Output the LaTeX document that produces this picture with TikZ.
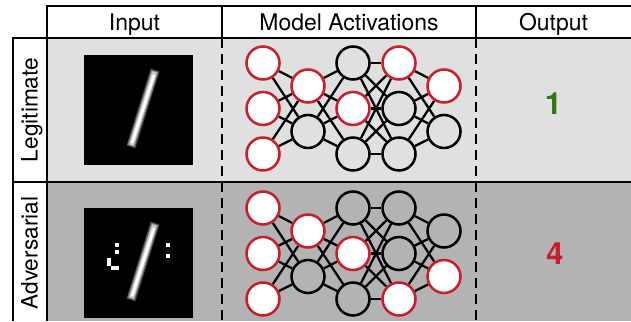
\documentclass[tikz,border=0pt]{standalone}
\usepackage{fontspec}
\setmainfont{TeX Gyre Heros}
\definecolor{rowlight}{HTML}{E0E0E0}
\definecolor{rowdark}{HTML}{B3B3B3}
\definecolor{actred}{RGB}{200,30,45}
\definecolor{outgreen}{RGB}{46,122,12}
\pgfdeclarelayer{back}
\pgfdeclarelayer{edges}
\pgfsetlayers{back,edges,main}
\tikzset{every picture/.style={line width=0.75pt}}
\tikzset{
  grid line/.style={line width=1.5pt},
  sep line/.style={line width=1.5pt, dash pattern=on 7.5pt off 4.5pt},
  neuron/.style={circle, line width=1.9pt, minimum size=24.75pt, inner sep=0pt},
  hot/.style={neuron, draw=actred, fill=white},
  cold/.style={neuron, draw=black},
  synapse/.style={line width=1.7pt},
  head/.style={font=\fontsize{17.2}{19}\selectfont, anchor=base},
  side/.style={font=\fontsize{17}{19}\selectfont, anchor=base, rotate=90},
  verdict/.style={font=\fontsize{23}{26}\selectfont\bfseries},
}

\begin{document}
\begin{tikzpicture}[x=0.75pt,y=0.75pt,yscale=-1,xscale=1]
\useasboundingbox (0,0) rectangle (631,321);

%Row backgrounds
\begin{pgfonlayer}{back}
\fill[rowlight] (47,38) rectangle (631,182);
\fill[rowdark] (47,182) rectangle (631,321);
\end{pgfonlayer}

%Table lines
\draw[grid line] (47,321) -- (47,6) -- (631,6);
\draw[grid line] (13,321) -- (13,38) -- (631,38);
\draw[grid line] (13,182) -- (631,182);
\draw[grid line] (222,6) -- (222,38);
\draw[grid line] (476,6) -- (476,38);
\draw[sep line] (222,38) -- (222,321);
\draw[sep line] (476,38) -- (476,321);

% Text Node
\node[head] (hin) at (134.5,31) {Input};
% Text Node
\node[head] (hact) at (349,31) {Model Activations};
% Text Node
\node[head] (hout) at (553.5,31) {Output};
% Text Node
\node[side] (lleg) at (37.5,110) {Legitimate};
% Text Node
\node[side] (ladv) at (37.5,253) {Adversarial};
% Text Node
\node[verdict, text=outgreen] (outleg) at (553.5,104) {1};
% Text Node
\node[verdict, text=actred] (outadv) at (555,254) {4};

%Input images
\foreach \yo in {0,153} {
  \fill[black] (84,55+\yo) rectangle (193,165+\yo);
  \draw[black!75, line width=7pt] (131,147+\yo) -- (155,70+\yo);
  \draw[black!50, line width=5.5pt] (131,146+\yo) -- (155,71+\yo);
  \draw[black!20, line width=3.75pt] (131.5,145+\yo) -- (154.5,72+\yo);
  \draw[white, line width=2pt] (132,143+\yo) -- (154,75+\yo);
}
%Adversarial pixels
\foreach \x/\y/\w/\h in {115/243/4/4, 115/250/4/4, 107/258/4/8, 111/266/8/3.5, 166/243/4/4, 166/254/4/4}
  \fill[white] (\x,\y) rectangle ++(\w,\h);

%Legitimate network
\begin{scope}[cold/.append style={fill=rowlight}]
\foreach \l/\x/\y/\sty in {1/263/63/{hot,hot,hot}, 2/308/86/{hot,cold}, 3/353/63/{cold,hot,cold}, 4/399/63/{hot,cold,cold}, 5/444/86/{hot,cold}}
  \foreach \s [count=\i] in \sty
    \node[\s] (leg-\l-\i) at (\x,\y+45.5*\i-45.5) {};
\end{scope}
\begin{pgfonlayer}{edges}
\foreach \a/\na/\b/\nb in {1/3/2/2, 2/2/3/3, 3/3/4/3, 4/3/5/2}
  \foreach \i in {1,...,\na}
    \foreach \j in {1,...,\nb}
      \draw[synapse] (leg-\a-\i) -- (leg-\b-\j);
\end{pgfonlayer}

%Adversarial network
\begin{scope}[cold/.append style={fill=rowdark}]
\foreach \l/\x/\y/\sty in {1/263/208/{hot,hot,hot}, 2/308/231/{hot,cold}, 3/353/208/{cold,hot,cold}, 4/399/208/{cold,cold,hot}, 5/444/231/{cold,hot}}
  \foreach \s [count=\i] in \sty
    \node[\s] (adv-\l-\i) at (\x,\y+45.5*\i-45.5) {};
\end{scope}
\begin{pgfonlayer}{edges}
\foreach \a/\na/\b/\nb in {1/3/2/2, 2/2/3/3, 3/3/4/3, 4/3/5/2}
  \foreach \i in {1,...,\na}
    \foreach \j in {1,...,\nb}
      \draw[synapse] (adv-\a-\i) -- (adv-\b-\j);
\end{pgfonlayer}

\end{tikzpicture}
\end{document}
